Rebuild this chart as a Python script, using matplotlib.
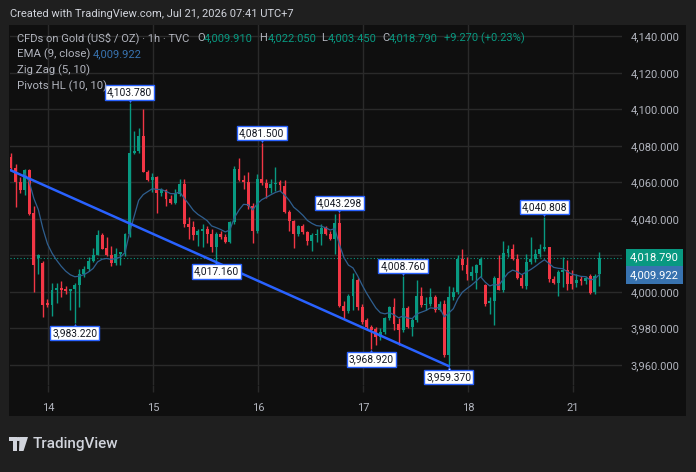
import numpy as np
import matplotlib.pyplot as plt
from matplotlib.patches import Rectangle, Circle, Polygon
from matplotlib.transforms import offset_copy

plt.rcParams['font.family'] = ['Roboto', 'DejaVu Sans']

W, H = 696, 472

# hourly candles (13-21 Jul)
opens = [4074, 4068, 4060.5, 4056, 4067, 4043, 4018.5, 4016, 3994, 3993,
         4001, 4002, 4001.5, 4000.5, 4001.5, 4004, 4010, 4012.5, 4017, 4020.5,
         4031, 4024, 4020, 4015.6, 4021, 4021.8, 4031.5, 4076, 4077, 4085.5,
         4066, 4061.5, 4063, 4054.5, 4056, 4051, 4049, 4053.6, 4059, 4037,
         4035.5, 4031, 4033.6, 4034.5, 4032, 4024.5, 4031.5, 4030, 4027.6, 4038.5,
         4067.6, 4061.5, 4060.5, 4047, 4033.5, 4061.8, 4059.6, 4057, 4059, 4060,
         4058, 4044, 4038.7, 4031.5, 4036, 4033, 4027.8, 4031, 4031.5, 4035,
         4031.5, 4029, 4037.8, 3992.4, 3989.6, 3998, 4006.4, 3991.8, 3984.5, 3981,
         3979.5, 3975.5, 3978, 3985.5, 3991.5, 3982.7, 3979, 3991, 3981, 3984.5,
         3998, 3992.7, 3993.6, 3997, 3990, 3993.6, 3965.5, 3997, 4000, 4018,
         4014.5, 4009, 4010.4, 4014.5, 4004, 3994, 3994.9, 4007.8, 4001.3, 4021.3,
         4023.3, 4018.2, 4007.8, 4003, 4016.4, 4018, 4021, 4023.6, 4024.5, 4007.3,
         4005, 4011, 4011.8, 4009, 4005, 4007, 4006, 4008.5, 4000, 4009.91]
highs = [4076, 4070, 4063, 4067.5, 4067.5, 4047, 4021, 4017, 3996, 4005,
         4005, 4006, 4003, 4001.5, 4005, 4012.5, 4014, 4019, 4024, 4034,
         4032.5, 4030, 4025, 4024, 4022, 4032.5, 4103.78, 4088, 4090, 4100.4,
         4067, 4065, 4063.5, 4057, 4056.5, 4053, 4056.5, 4062, 4062, 4041,
         4039, 4034.5, 4037.5, 4036, 4034.5, 4033, 4033.5, 4031.5, 4039, 4069,
         4073.6, 4064, 4066, 4049, 4064.5, 4081.5, 4061.8, 4062, 4068.7, 4061.5,
         4061.5, 4045, 4039.5, 4036.5, 4037, 4033.5, 4032.5, 4034.5, 4037, 4036,
         4033.5, 4042.5, 4043.298, 3995, 3999, 4010.5, 4007.5, 3993.5, 3985.5, 3982,
         3981, 3980, 3986.5, 3992.5, 3996.5, 3985.5, 4008.76, 3992.5, 3985.5, 4006.7,
         4002.5, 3997, 4002, 3998.5, 3995, 3995.5, 4003.5, 4002.5, 4020.5, 4023.5,
         4019, 4014, 4015.5, 4019, 4004.5, 3997, 4009, 4020.5, 4028, 4025.5,
         4026.5, 4021, 4010, 4021, 4030, 4023.5, 4026.5, 4040.808, 4024.9, 4009,
         4012, 4019, 4017.3, 4011.8, 4010, 4009, 4009, 4010, 4010, 4022.05]
lows = [4067, 4046.5, 4054, 4053, 4042, 4000, 4010, 3986.5, 3992, 3987,
        3994, 3997, 3999, 3990, 3983.22, 3992, 4008, 4011.5, 4016.5, 4020,
        4023.5, 4019.5, 4014, 4014.5, 4014.5, 4019.5, 4030, 4075.5, 4076, 4065.5,
        4061, 4055, 4043, 4052.5, 4047, 4048, 4048, 4052.5, 4035.5, 4029,
        4028.5, 4025, 4024.5, 4027, 4022, 4017.16, 4029, 4027, 4027, 4037.5,
        4061, 4056.5, 4045.5, 4027, 4032.5, 4058.5, 4051.5, 4054, 4055.5, 4055.5,
        4043.5, 4033.5, 4024, 4030.5, 4031.5, 4025.5, 4022.5, 4027.5, 4025.5, 4031,
        4028.5, 4021, 3991.5, 3985, 3988.5, 3990, 3990, 3982.5, 3979, 3968.92,
        3971, 3973.5, 3977, 3984.5, 3979, 3971, 3978, 3980, 3976, 3983.5,
        3992, 3990, 3992.5, 3989, 3989.5, 3964.5, 3959.37, 3995.5, 3999, 4012,
        4006.5, 4006.5, 4001.5, 4008, 3992.5, 3988, 3982, 4001, 3999.9, 4019,
        4017.5, 4007.3, 4002.3, 4001.8, 4015.3, 4016.4, 4019, 4022.7, 4005.5, 4004.5,
        3998, 4002.7, 4001.3, 4001.8, 4002.7, 4003.6, 4004.5, 3999.1, 3999.1, 4003.45]
closes = [4068, 4060, 4056, 4067, 4042.5, 4015, 4020, 3993, 3993, 4001,
          4002, 4001, 4000.5, 4001.5, 4004, 4010, 4012.5, 4017, 4020.5, 4031,
          4023.8, 4020, 4015.6, 4021, 4021.8, 4031.5, 4076, 4077, 4085.5, 4066,
          4061.5, 4063, 4054.5, 4056, 4051, 4049, 4053.6, 4059, 4037, 4035.5,
          4031, 4033.6, 4034.5, 4032, 4024.5, 4031.5, 4030, 4027.6, 4038.5, 4067.6,
          4061.5, 4060.5, 4047, 4033.5, 4061.8, 4059.6, 4057, 4059, 4059.6, 4058.7,
          4044, 4038.7, 4031.5, 4036, 4032.7, 4027.8, 4031, 4031.5, 4035, 4031.5,
          4029, 4037.8, 3992.4, 3989.6, 3998, 4007, 3991.8, 3983.6, 3981, 3979,
          3975.5, 3978, 3985.5, 3991.5, 3982.7, 3979, 3991, 3981, 3984.5, 3998,
          3992.7, 3993.6, 3997, 3990, 3993.6, 3965.5, 3997, 4000, 4018, 4014.5,
          4010, 4011, 4014.5, 4018, 3993.6, 3995, 4007.8, 4001.3, 4021.3, 4023.3,
          4018.2, 4007.8, 4003, 4016.4, 4018, 4021, 4023.6, 4024.5, 4007.3, 4005,
          4011, 4011.8, 4004.5, 4004.5, 4006.7, 4006, 4007.8, 3999.5, 4009, 4018.79]

day_labels = ['14', '15', '16', '17', '18', '21']
day_pos = [8.1, 31.1, 54.2, 77.2, 100.2, 123.2]
price_ticks = [3960, 3980, 4000, 4040, 4060, 4080, 4100, 4120, 4140]

pivot_hi_idx = [26, 55, 72, 86, 117]
pivot_hi_val = [4103.78, 4081.5, 4043.298, 4008.76, 4040.808]
pivot_lo_idx = [14, 45, 79, 96]
pivot_lo_val = [3983.22, 4017.16, 3968.92, 3959.37]

zigzag_x = [-1, 96]
zigzag_y = [4067.7, 3959.37]

last_close = 4018.79
ema_last = 4009.922

UP = '#089981'
DOWN = '#f23645'
GRID = '#2a2a2a'
TXT = '#b2b5be'


def fx(x):
    return x / W


def fy(y):
    return 1 - y / H


fig = plt.figure(figsize=(W / 100, H / 100), dpi=100, facecolor='#1f1f1f')
fig.patches.append(Rectangle((fx(9), fy(416)), fx(686 - 9), (416 - 25) / H,
                             transform=fig.transFigure, fc='#0f0f0f', ec='none', zorder=-5))

ax = fig.add_axes([fx(10), fy(385), fx(622 - 10), (385 - 25) / H])
ax.set_facecolor('#0f0f0f')
ax.set_xlim(-0.22, 134.0)
ax.set_ylim(3949.0, 4146.3)
for s in ax.spines.values():
    s.set_visible(False)

ax.set_yticks(price_ticks)
ax.set_yticklabels([f'{v:,.3f}' for v in price_ticks])
ax.yaxis.tick_right()
ax.tick_params(axis='y', length=0, pad=6, labelsize=8, labelcolor=TXT)
ax.set_xticks(day_pos)
ax.set_xticklabels(day_labels)
ax.tick_params(axis='x', length=5, width=1, color=GRID, pad=8, labelsize=8, labelcolor=TXT)
ax.grid(color=GRID, linewidth=1, zorder=0)
ax.axhline(4020, color=GRID, linewidth=1, zorder=0)
ax.set_axisbelow(True)

# candles
x = np.arange(len(closes))
o = np.array(opens)
c = np.array(closes)
cols = [UP if cc >= oo else DOWN for oo, cc in zip(o, c)]
ax.vlines(x, lows, highs, colors=cols, linewidth=1, zorder=2)
body = np.maximum(np.abs(c - o), 0.5)
ax.bar(x, body, bottom=np.minimum(o, c), width=0.64, color=cols, linewidth=0, zorder=3)

# EMA 9
k = 2 / 10
ema = []
e = closes[0]
for cl in closes:
    e = cl * k + e * (1 - k)
    ema.append(e)
ax.plot(x[3:], ema[3:], color='#2f5f8f', linewidth=0.9, zorder=4)

# zig zag
ax.plot(zigzag_x, zigzag_y, color='#2962ff', linewidth=1.8, zorder=5)

# last price line
ax.axhline(last_close, color=UP, linewidth=0.8, linestyle=(0, (1, 2)), zorder=1)

# pivot labels
box = dict(boxstyle='square,pad=0.2', fc='white', ec='#2962ff', lw=1)
up_tr = offset_copy(ax.transData, fig=fig, x=0, y=4, units='dots')
dn_tr = offset_copy(ax.transData, fig=fig, x=0, y=-4, units='dots')
for i, v in zip(pivot_hi_idx, pivot_hi_val):
    ax.plot(i, v, marker='v', ms=4, color='white', mec='#2962ff', mew=0.6,
            transform=up_tr, zorder=6)
    ax.annotate(f'{v:,.3f}', (i, v), xytext=(0, 7.3), textcoords='offset points',
                ha='center', va='center', fontsize=7.4, color='#131722', bbox=box, zorder=7)
for i, v in zip(pivot_lo_idx, pivot_lo_val):
    ax.plot(i, v, marker='^', ms=4, color='white', mec='#2962ff', mew=0.6,
            transform=dn_tr, zorder=6)
    ax.annotate(f'{v:,.3f}', (i, v), xytext=(0, -7.8), textcoords='offset points',
                ha='center', va='center', fontsize=7.4, color='#131722', bbox=box, zorder=7)

# price scale badges
ax.annotate(f'{last_close:,.3f}', (1, last_close), xycoords=('axes fraction', 'data'),
            xytext=(5.8, 0), textcoords='offset points', ha='left', va='center',
            fontsize=8, color='white', annotation_clip=False,
            bbox=dict(boxstyle='square,pad=0.35', fc=UP, ec='none'))
ax.annotate(f'{ema_last:,.3f}', (1, 4009.3), xycoords=('axes fraction', 'data'),
            xytext=(5.8, 0), textcoords='offset points', ha='left', va='center',
            fontsize=8, color='white', annotation_clip=False,
            bbox=dict(boxstyle='square,pad=0.35', fc='#3873b0', ec='none'))

# header and legend
fig.text(fx(10), fy(14), 'Created with TradingView.com, Jul 21, 2026 07:41 UTC+7',
         fontsize=8, color='#d1d4dc', va='center')
row = fy(38)
fig.text(fx(17), row, 'CFDs on Gold (US$ / OZ) · 1h · TVC', fontsize=8.05, color=TXT, va='center')
pieces = [(197, 'O', TXT), (204, '4,009.910', UP), (259, 'H', TXT), (268, '4,022.050', UP),
          (321, 'L', TXT), (328, '4,003.450', UP), (382, 'C', TXT), (389, '4,018.790', UP),
          (444, '+9.270 (+0.23%)', UP)]
for px, s, col in pieces:
    fig.text(fx(px), row, s, fontsize=8, color=col, va='center')
fig.text(fx(17), fy(54), 'EMA (9, close)', fontsize=8.2, color=TXT, va='center')
fig.text(fx(93), fy(54), f'{ema_last:,.3f}', fontsize=8, color='#3873b0', va='center')
fig.text(fx(17), fy(70), 'Zig Zag (5, 10)', fontsize=8.2, color=TXT, va='center')
fig.text(fx(17), fy(86), 'Pivots HL (10, 10)', fontsize=8.2, color=TXT, va='center')

# footer logo
LOGO = '#d1d4dc'
fig.patches.append(Rectangle((fx(9), fy(441)), fx(8), 4 / H, transform=fig.transFigure, fc=LOGO, ec='none'))
fig.patches.append(Rectangle((fx(13), fy(451)), fx(4), 10 / H, transform=fig.transFigure, fc=LOGO, ec='none'))
fig.patches.append(Polygon([(fx(19.5), fy(437)), (fx(28), fy(437)), (fx(23.5), fy(451)), (fx(19), fy(451))],
                           closed=True, transform=fig.transFigure, fc=LOGO, ec='none'))
fig.patches.append(Circle((fx(18.3), fy(439)), 2 / H, transform=fig.transFigure, fc=LOGO, ec='none'))
fig.text(fx(33), fy(444), 'TradingView', fontsize=11, color=LOGO, va='center', fontweight='medium')

fig.savefig('out.png', dpi=100, facecolor=fig.get_facecolor())
